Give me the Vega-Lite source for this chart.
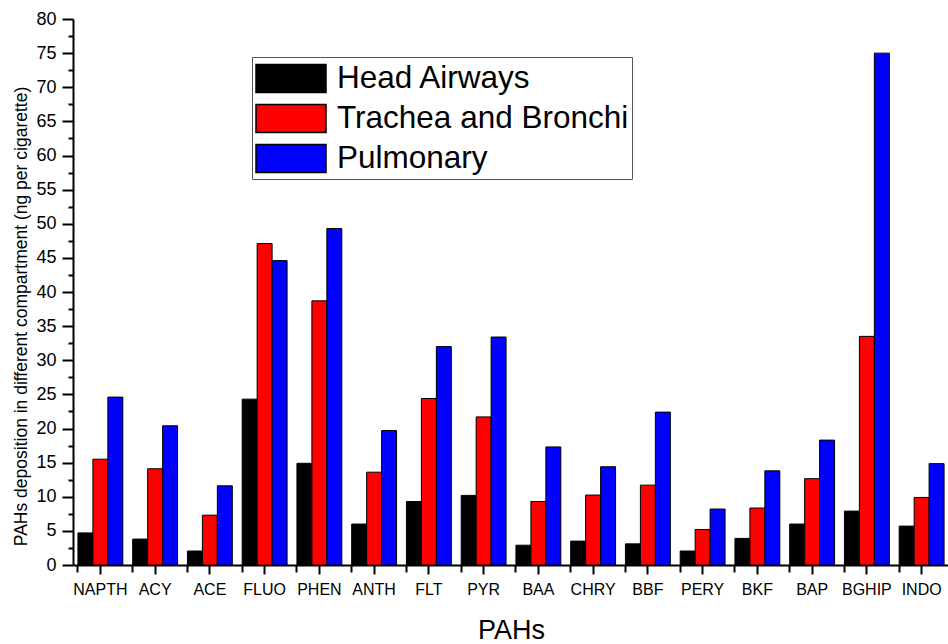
{
  "$schema": "https://vega.github.io/schema/vega-lite/v6.json",
  "autosize": "none",
  "width": 876,
  "height": 546,
  "padding": {"left": 73, "top": 19, "right": 0, "bottom": 79},
  "background": "white",
  "config": {"view": {"stroke": null}, "font": "Liberation Sans"},
  "data": {"values": [
    {"pah": "NAPTH", "c": "Head Airways", "v": 4.7}, {"pah": "NAPTH", "c": "Trachea and Bronchi", "v": 15.5}, {"pah": "NAPTH", "c": "Pulmonary", "v": 24.6},
    {"pah": "ACY", "c": "Head Airways", "v": 3.8}, {"pah": "ACY", "c": "Trachea and Bronchi", "v": 14.1}, {"pah": "ACY", "c": "Pulmonary", "v": 20.4},
    {"pah": "ACE", "c": "Head Airways", "v": 2.05}, {"pah": "ACE", "c": "Trachea and Bronchi", "v": 7.3}, {"pah": "ACE", "c": "Pulmonary", "v": 11.6},
    {"pah": "FLUO", "c": "Head Airways", "v": 24.3}, {"pah": "FLUO", "c": "Trachea and Bronchi", "v": 47.1}, {"pah": "FLUO", "c": "Pulmonary", "v": 44.6},
    {"pah": "PHEN", "c": "Head Airways", "v": 14.9}, {"pah": "PHEN", "c": "Trachea and Bronchi", "v": 38.7}, {"pah": "PHEN", "c": "Pulmonary", "v": 49.3},
    {"pah": "ANTH", "c": "Head Airways", "v": 6.0}, {"pah": "ANTH", "c": "Trachea and Bronchi", "v": 13.6}, {"pah": "ANTH", "c": "Pulmonary", "v": 19.7},
    {"pah": "FLT", "c": "Head Airways", "v": 9.3}, {"pah": "FLT", "c": "Trachea and Bronchi", "v": 24.4}, {"pah": "FLT", "c": "Pulmonary", "v": 32.0},
    {"pah": "PYR", "c": "Head Airways", "v": 10.2}, {"pah": "PYR", "c": "Trachea and Bronchi", "v": 21.7}, {"pah": "PYR", "c": "Pulmonary", "v": 33.4},
    {"pah": "BAA", "c": "Head Airways", "v": 2.9}, {"pah": "BAA", "c": "Trachea and Bronchi", "v": 9.3}, {"pah": "BAA", "c": "Pulmonary", "v": 17.3},
    {"pah": "CHRY", "c": "Head Airways", "v": 3.5}, {"pah": "CHRY", "c": "Trachea and Bronchi", "v": 10.25}, {"pah": "CHRY", "c": "Pulmonary", "v": 14.4},
    {"pah": "BBF", "c": "Head Airways", "v": 3.1}, {"pah": "BBF", "c": "Trachea and Bronchi", "v": 11.7}, {"pah": "BBF", "c": "Pulmonary", "v": 22.4},
    {"pah": "PERY", "c": "Head Airways", "v": 2.05}, {"pah": "PERY", "c": "Trachea and Bronchi", "v": 5.2}, {"pah": "PERY", "c": "Pulmonary", "v": 8.2},
    {"pah": "BKF", "c": "Head Airways", "v": 3.9}, {"pah": "BKF", "c": "Trachea and Bronchi", "v": 8.35}, {"pah": "BKF", "c": "Pulmonary", "v": 13.8},
    {"pah": "BAP", "c": "Head Airways", "v": 6.0}, {"pah": "BAP", "c": "Trachea and Bronchi", "v": 12.65}, {"pah": "BAP", "c": "Pulmonary", "v": 18.3},
    {"pah": "BGHIP", "c": "Head Airways", "v": 7.9}, {"pah": "BGHIP", "c": "Trachea and Bronchi", "v": 33.5}, {"pah": "BGHIP", "c": "Pulmonary", "v": 75.0},
    {"pah": "INDO", "c": "Head Airways", "v": 5.7}, {"pah": "INDO", "c": "Trachea and Bronchi", "v": 9.9}, {"pah": "INDO", "c": "Pulmonary", "v": 14.85}
  ]},
  "resolve": {"axis": {"x": "independent", "y": "independent"}},
  "layer": [
    {
      "mark": {"type": "bar", "stroke": "black", "strokeWidth": 1},
      "encoding": {
        "x": {
          "field": "pah", "type": "nominal", "sort": null,
          "scale": {"paddingInner": 0.18, "paddingOuter": 0.09},
          "axis": {
            "orient": "bottom", "title": "PAHs", "titleFontSize": 27, "titleFontWeight": "normal", "titleColor": "black",
            "titleY": 73, "titleBaseline": "alphabetic",
            "labelAngle": 0, "labelFontSize": 16, "labelColor": "black", "labelPadding": 7,
            "tickSize": 9, "tickWidth": 2, "tickColor": "black", "domainWidth": 2, "domainColor": "black", "bandPosition": 0.5
          }
        },
        "xOffset": {"field": "c", "type": "nominal", "sort": ["Head Airways", "Trachea and Bronchi", "Pulmonary"], "scale": {"paddingInner": 0, "paddingOuter": 0}},
        "y": {
          "field": "v", "type": "quantitative",
          "scale": {"domain": [0, 80], "nice": false, "zero": true},
          "axis": {
            "orient": "left", "values": [0, 5, 10, 15, 20, 25, 30, 35, 40, 45, 50, 55, 60, 65, 70, 75, 80],
            "title": "PAHs deposition in different compartment (ng per cigarette)", "titleFontSize": 17.5, "titleFontWeight": "normal", "titleColor": "black",
            "titleX": -47, "titleY": 297, "titleBaseline": "alphabetic", "titleAngle": -90,
            "labelFontSize": 18, "labelColor": "black", "labelPadding": 6, "grid": false,
            "tickSize": 11, "tickWidth": 2, "tickColor": "black", "domainWidth": 2, "domainColor": "black"
          }
        },
        "color": {
          "field": "c", "type": "nominal",
          "scale": {"domain": ["Head Airways", "Trachea and Bronchi", "Pulmonary"], "range": ["#000000", "#ff0000", "#0000ff"]},
          "legend": {
            "orient": "none", "legendX": 179, "legendY": 38, "title": null,
            "padding": 3, "strokeColor": "#555555", "fillColor": "white",
            "symbolType": "M-2,-0.8L2,-0.8L2,0.8L-2,0.8Z", "symbolSize": 1225, "symbolOffset": 17.5,
            "symbolStrokeColor": "black", "symbolStrokeWidth": 1.5, "symbolOpacity": 1,
            "labelFontSize": 31.5, "labelColor": "black", "labelOffset": 27.5, "rowPadding": 4, "labelLimit": 500
          }
        }
      }
    },
    {
      "mark": {"type": "bar", "opacity": 0},
      "encoding": {
        "x": {
          "field": "pah", "type": "nominal", "sort": null,
          "axis": {"orient": "bottom", "title": null, "labels": false, "domain": false, "bandPosition": 0, "tickSize": 7, "tickWidth": 2, "tickColor": "black"}
        },
        "y": {
          "field": "v", "type": "quantitative",
          "axis": {"orient": "left", "title": null, "labels": false, "domain": false, "grid": false,
            "values": [2.5, 7.5, 12.5, 17.5, 22.5, 27.5, 32.5, 37.5, 42.5, 47.5, 52.5, 57.5, 62.5, 67.5, 72.5, 77.5],
            "tickSize": 5, "tickWidth": 2, "tickColor": "black"}
        }
      }
    }
  ]
}
